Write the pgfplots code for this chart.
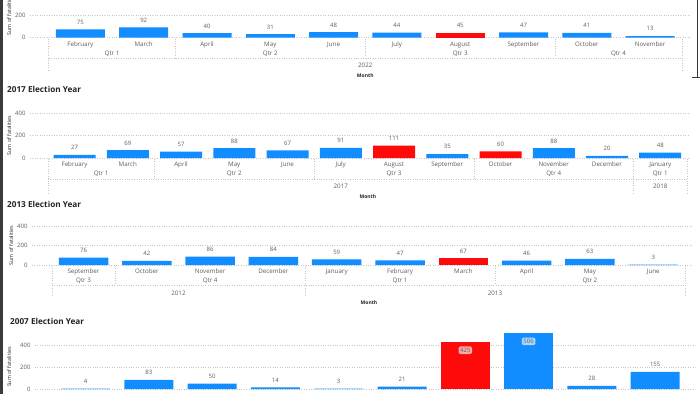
\documentclass[border=0pt]{standalone}
\usepackage{fontspec}
\setmainfont{Open Sans}
\usepackage{pgfplots}
\pgfplotsset{compat=1.18}
\pgfplotsset{/pgf/number format/assume math mode=true}

\definecolor{pbblue}{HTML}{118DFF}
\definecolor{pbred}{HTML}{FF0A0A}
\definecolor{txt}{HTML}{605E5C}
\definecolor{ttl}{HTML}{252423}
\definecolor{grd}{HTML}{C8C6C4}
\definecolor{frm}{HTML}{3A3A3A}

\newcommand{\fsm}{\fontsize{6.2}{7}\selectfont}
\newcommand{\fval}{\fontsize{6}{7}\selectfont}

\tikzset{
  sep/.style={draw=grd, line width=0.5pt, dash pattern=on 0.6pt off 1.8pt},
  hl/.style={font=\fsm, text=txt, anchor=base, inner sep=0pt},
  mt/.style={font=\bfseries\fontsize{5}{6}\selectfont, text=ttl, anchor=base, inner sep=0pt},
}

\pgfplotsset{
  pb/.style={
    scale only axis, width=660pt, anchor=south west,
    ymin=0, ymax=400, ytick={0,200,400},
    ybar, bar shift=0pt, clip=false,
    axis line style={draw=none}, major tick length=0pt,
    ymajorgrids, grid style={draw=grd, line width=0.5pt, dash pattern=on 0.6pt off 1.8pt},
    yticklabel style={font=\fval, text=txt, xshift=-1pt},
    xticklabel style={font=\fsm, text=txt, anchor=base, yshift=-8.7pt, inner sep=0pt},
    nodes near coords,
    every node near coord/.append style={font=\fval, text=txt, yshift=1.5pt},
    every axis y label/.style={at={([xshift=-21pt]axis description cs:0,0.5)}, rotate=90, anchor=center,
      font=\fontsize{5.3}{6}\selectfont, text=ttl},
    ylabel={Sum of fatalities},
    title style={at={(axis description cs:0,1)}, anchor=base west, inner sep=0pt,
      font=\bfseries\fontsize{8.2}{10}\selectfont, text=ttl},
  },
  inlab/.style={every node near coord/.append style={yshift=-13.5pt, fill=white,
      fill opacity=0.65, text opacity=1, rounded corners=1.5pt, inner sep=1.6pt}},
}

\begin{document}
\begin{tikzpicture}
\useasboundingbox (0,0) rectangle (700pt,-394pt);
\clip (0,0) rectangle (700pt,-394pt);
\fill[white] (0,0) rectangle (700pt,-394pt);

% ---------------- 2022 panel (top, cut) ----------------
\begin{axis}[pb, at={(30pt,-37.5pt)}, height=44pt,
  xmin=-0.796, xmax=9.63, bar width=49pt,
  xtick={0,...,9},
  xticklabels={February,March,April,May,June,July,August,September,October,November}]
\addplot[fill=pbblue, draw=none] coordinates {(0,75)(1,92)(2,40)(3,31)(4,48)(5,44)(7,47)(8,41)(9,13)};
\addplot[fill=pbred, draw=none] coordinates {(6,45)};
\pgfplotsinvokeforeach{-0.5,9.5}{\draw[sep] ([yshift=-1pt]axis cs:#1,0) -- ([yshift=-34pt]axis cs:#1,0);}
\pgfplotsinvokeforeach{1.5,4.5,7.5}{\draw[sep] ([yshift=-1pt]axis cs:#1,0) -- ([yshift=-21pt]axis cs:#1,0);}
\draw[sep] ([yshift=-21pt]axis cs:-0.5,0) -- ([yshift=-21pt]axis cs:9.5,0);
\node[hl] at ([yshift=-17.7pt]axis cs:0.5,0) {Qtr 1};
\node[hl] at ([yshift=-17.7pt]axis cs:3,0) {Qtr 2};
\node[hl] at ([yshift=-17.7pt]axis cs:6,0) {Qtr 3};
\node[hl] at ([yshift=-17.7pt]axis cs:8.5,0) {Qtr 4};
\node[hl] at ([yshift=-30.2pt]axis cs:4.5,0) {2022};
\node[mt] at ([yshift=-40.3pt]axis cs:4.5,0) {Month};
\end{axis}

% ---------------- 2017 panel ----------------
\begin{axis}[pb, at={(30pt,-158pt)}, height=45pt,
  xmin=-0.836, xmax=11.559, bar width=42pt,
  title={2017 Election Year}, title style={xshift=-23pt, yshift=15pt},
  xtick={0,...,11},
  xticklabels={February,March,April,May,June,July,August,September,October,November,December,January}]
\addplot[fill=pbblue, draw=none] coordinates {(0,27)(1,69)(2,57)(3,88)(4,67)(5,91)(7,35)(9,88)(10,20)(11,48)};
\addplot[fill=pbred, draw=none] coordinates {(6,111)(8,60)};
\pgfplotsinvokeforeach{-0.5,10.5,11.5}{\draw[sep] ([yshift=-1pt]axis cs:#1,0) -- ([yshift=-35pt]axis cs:#1,0);}
\pgfplotsinvokeforeach{1.5,4.5,7.5}{\draw[sep] ([yshift=-1pt]axis cs:#1,0) -- ([yshift=-21pt]axis cs:#1,0);}
\draw[sep] ([yshift=-21pt]axis cs:-0.5,0) -- ([yshift=-21pt]axis cs:11.5,0);
\node[hl] at ([yshift=-17.9pt]axis cs:0.5,0) {Qtr 1};
\node[hl] at ([yshift=-17.9pt]axis cs:3,0) {Qtr 2};
\node[hl] at ([yshift=-17.9pt]axis cs:6,0) {Qtr 3};
\node[hl] at ([yshift=-17.9pt]axis cs:9,0) {Qtr 4};
\node[hl] at ([yshift=-17.9pt]axis cs:11,0) {Qtr 1};
\node[hl] at ([yshift=-30.2pt]axis cs:5,0) {2017};
\node[hl] at ([yshift=-30.2pt]axis cs:11,0) {2018};
\node[mt] at ([yshift=-40.6pt]axis cs:5.51,0) {Month};
\end{axis}

% ---------------- 2013 panel ----------------
\begin{axis}[pb, at={(32pt,-265pt)}, height=39pt,
  xmin=-0.814, xmax=9.613, bar width=49.5pt,
  title={2013 Election Year}, title style={xshift=-25pt, yshift=12.5pt},
  xticklabel style={yshift=0.5pt},
  xtick={0,...,9},
  xticklabels={September,October,November,December,January,February,March,April,May,June}]
\addplot[fill=pbblue, draw=none] coordinates {(0,76)(1,42)(2,86)(3,84)(4,59)(5,47)(7,46)(8,63)(9,3)};
\addplot[fill=pbred, draw=none] coordinates {(6,67)};
\pgfplotsinvokeforeach{-0.5,3.5,9.5}{\draw[sep] ([yshift=-1pt]axis cs:#1,0) -- ([yshift=-32pt]axis cs:#1,0);}
\pgfplotsinvokeforeach{0.5,6.5}{\draw[sep] ([yshift=-1pt]axis cs:#1,0) -- ([yshift=-20pt]axis cs:#1,0);}
\draw[sep] ([yshift=-20pt]axis cs:-0.5,0) -- ([yshift=-20pt]axis cs:9.5,0);
\node[hl] at ([yshift=-17.2pt]axis cs:0,0) {Qtr 3};
\node[hl] at ([yshift=-17.2pt]axis cs:2,0) {Qtr 4};
\node[hl] at ([yshift=-17.2pt]axis cs:5,0) {Qtr 1};
\node[hl] at ([yshift=-17.2pt]axis cs:8,0) {Qtr 2};
\node[hl] at ([yshift=-30.2pt]axis cs:1.5,0) {2012};
\node[hl] at ([yshift=-30.2pt]axis cs:6.5,0) {2013};
\node[mt] at ([yshift=-39.8pt]axis cs:4.51,0) {Month};
\end{axis}

% ---------------- 2007 panel (bottom, cut) ----------------
\begin{axis}[pb, at={(35pt,-389pt)}, height=44pt,
  xmin=-0.798, xmax=9.629, bar width=49pt,
  title={2007 Election Year}, title style={xshift=-25pt, yshift=15pt},
  every axis y label/.append style={yshift=5pt},
  xtick=\empty]
\addplot[fill=pbblue, draw=none] coordinates {(0,4)(1,83)(2,50)(3,14)(4,3)(5,21)(8,28)(9,155)};
\addplot[fill=pbred, draw=none, inlab] coordinates {(6,425)};
\addplot[fill=pbblue, draw=none, inlab] coordinates {(7,506)};
\end{axis}

% frame of the screenshot
\fill[frm] (0,0) rectangle (2.5pt,-394pt);
\draw[frm, line width=0.9pt] (697.5pt,0) -- (697.5pt,-77pt);
\draw[frm, line width=0.6pt] (692pt,-77pt) -- (700pt,-77pt);
\end{tikzpicture}
\end{document}
